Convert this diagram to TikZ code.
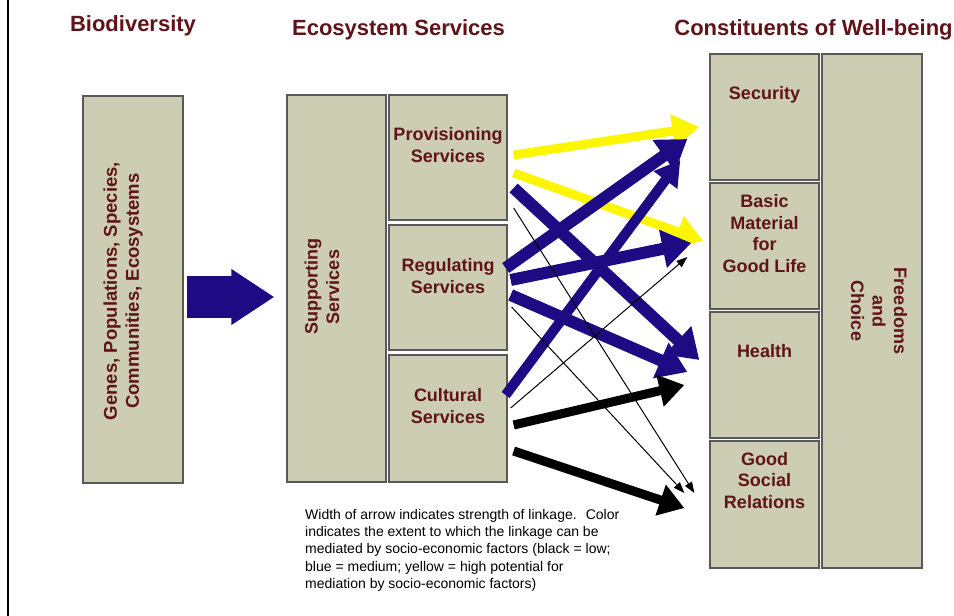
\documentclass[tikz,border=0pt]{standalone}
\usepackage{fontspec}
\setmainfont{Liberation Sans}
\usetikzlibrary{positioning}
\usetikzlibrary{arrows.meta}
\usetikzlibrary{calc}
\definecolor{boxfill}{RGB}{205,205,180}
\definecolor{labelred}{RGB}{95,20,25}
\definecolor{linkblue}{RGB}{30,10,130}
\definecolor{linkyellow}{RGB}{252,246,0}
\tikzset{
    box/.style={draw=black!65, line width=1.3pt, fill=boxfill, inner sep=0pt}, % 方框
    midbox/.style={box, minimum width=118pt, minimum height=125pt}, % 中间三格
    wellbox/.style={box, minimum width=109pt, minimum height=126pt}, % 右侧四格
    boxtext/.style={font=\fontsize{18}{21.5}\selectfont\bfseries, text=labelred, align=center, inner sep=0pt}, % 框内文字
    title/.style={font=\fontsize{22}{26}\selectfont\bfseries, text=labelred, inner sep=0pt, anchor=base}, % 栏目标题
    note/.style={font=\fontsize{14}{17.25}\selectfont, align=left, inner sep=0pt, anchor=north west}, % 说明文字
    yellowlink/.style={draw=linkyellow, line width=9pt, -{Triangle[length=27pt,width=32pt]}},
    bluelink/.style={draw=linkblue, line width=12pt, -{Triangle[length=29pt,width=37pt]}},
    blacklink/.style={draw=black, line width=9pt, -{Triangle[length=25pt,width=31pt]}},
    thinlink/.style={draw=black, line width=1pt, -{Triangle[length=11pt,width=8pt]}}
}
\begin{document}
\begin{tikzpicture}[x=1pt, y=-1pt]
    \useasboundingbox (0,0) rectangle (954,616);
    \draw[line width=2pt] (8,0) -- (8,616);

    % 标题
    \node[title] (titlebio) at (133,31) {Biodiversity};
    \node[title] (titleeco) at (398.5,35) {Ecosystem Services};
    \node[title] (titlewell) at (813.5,35) {Constituents of Well-being};

    % 左侧
    \node[box, minimum width=100pt, minimum height=387pt] (bio) at (133,289.5) {};
    \node[boxtext, font=\fontsize{18.5}{22}\selectfont\bfseries, rotate=90] (biotxt) at (123,291) {Genes, Populations, Species,\\Communities, Ecosystems};

    % 中间
    \node[box, minimum width=99pt, minimum height=387pt] (supp) at (336.5,288.5) {};
    \node[boxtext, rotate=90] (supptxt) at (322,287) {Supporting\\Services};
    \node[midbox] (prov) at (448,157.5) {};
    \node[midbox] (reg) at (448,287.5) {};
    \node[midbox, minimum height=127pt] (cult) at (448,418.5) {};
    \node[boxtext] (provtxt) at ($(prov.north)+(0,50.5)$) {Provisioning\\Services};
    \node[boxtext] (regtxt) at ($(reg.north)+(0,51.5)$) {Regulating\\Services};
    \node[boxtext] (culttxt) at ($(cult.north)+(0,51.5)$) {Cultural\\Services};

    % 右侧
    \node[wellbox] (sec) at (764.5,117) {};
    \node[wellbox] (basic) at (764.5,246) {};
    \node[wellbox] (health) at (764.5,375) {};
    \node[wellbox, minimum height=127pt] (social) at (764.5,504.5) {};
    \node[box, minimum width=100pt, minimum height=514pt] (free) at (872,311) {};
    \node[boxtext] (sectxt) at ($(sec.north)+(0,41)$) {Security};
    \node[boxtext] (basictxt) at ($(basic.north)+(0,51)$) {Basic\\Material\\for\\Good Life};
    \node[boxtext] (healthtxt) at ($(health.north)+(0,40)$) {Health};
    \node[boxtext] (socialtxt) at ($(social.north)+(0,40)$) {Good\\Social\\Relations};
    \node[boxtext, rotate=-90] (freetxt) at (879,311) {Freedoms\\and\\Choice};

    % 大箭头
    \draw[draw=linkblue, line width=42pt, -{Triangle[length=43pt,width=53pt]}] ($(bio.east)+(3,7.5)$) -- ($(supp.west)+(-12,8.5)$);

    % 联系
    \draw[yellowlink] ($(prov.east)+(6,-2.5)$) -- ($(sec.west)+(-10,10)$);
    \draw[yellowlink] ($(prov.east)+(6,15.5)$) -- ($(basic.west)+(-6,-5)$);
    \draw[bluelink] ($(prov.east)+(6,30.5)$) -- ($(health.west)+(-10,-15)$);
    \draw[bluelink] ($(reg.east)+(-2,-19.5)$) -- ($(sec.west)+(-22,22)$);
    \draw[bluelink, line width=10pt, -{Triangle[length=25pt,width=28pt]}] ($(cult.east)+(-2,-23.5)$) -- ($(sec.west)+(-29,43)$);
    \draw[bluelink] ($(reg.east)+(3,-7.5)$) -- ($(basic.west)+(-18,-3)$);
    \draw[bluelink] ($(reg.east)+(3,7.5)$) -- ($(health.west)+(-22,-3)$);
    \draw[blacklink] ($(cult.east)+(6,6.5)$) -- ($(health.west)+(-25,10)$);
    \draw[blacklink] ($(cult.east)+(6,32.5)$) -- ($(social.west)+(-25,3.5)$);
    \draw[thinlink] ($(prov.east)+(6,50.5)$) -- ($(social.west)+(-15,-11.5)$);
    \draw[thinlink] ($(reg.east)+(4,19.5)$) -- ($(social.west)+(-25,-11.5)$);
    \draw[thinlink] ($(cult.east)+(3,-10.5)$) -- ($(basic.west)+(-22,11)$);

    % 说明
    \node[note] (legend) at (305,509) {Width of arrow indicates strength of linkage.~ Color\\indicates the extent to which the linkage can be\\mediated by socio-economic factors (black = low;\\blue = medium; yellow = high potential for\\mediation by socio-economic factors)};
\end{tikzpicture}
\end{document}
